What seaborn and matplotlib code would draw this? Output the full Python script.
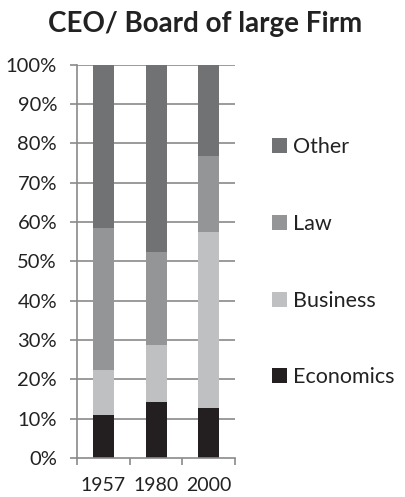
import matplotlib
matplotlib.use("Agg")
import matplotlib.pyplot as plt
from matplotlib.patches import Patch
from matplotlib.ticker import PercentFormatter, FixedLocator
import seaborn as sns
import pandas as pd
import numpy as np

# Share of each field of study (percent), per year
years = ["1957", "1980", "2000"]
economics = [11.0, 14.2, 12.7]
business = [11.4, 14.4, 44.8]
law = [36.1, 23.8, 19.2]
other = [41.5, 47.6, 23.3]

series_names = ["Economics", "Business", "Law", "Other"]
series_colors = ["#231f20", "#bfc0c2", "#949597", "#717274"]

sns.set_theme(style="white")
plt.rcParams["font.family"] = ["Lato", "DejaVu Sans"]

df = pd.DataFrame({"year": years, "Economics": economics, "Business": business,
                   "Law": law, "Other": other})
cum = df[series_names].cumsum(axis=1) / 100.0

fig = plt.figure(figsize=(4.06, 4.97), dpi=100)
ax = fig.add_axes([0.190, 0.0785, 0.389, 0.7915])

grid_col = "#8a8a8a"
for v in np.arange(0.1, 1.01, 0.1):
    ax.axhline(v, color=grid_col, lw=1.2, zorder=0)

# draw cumulative totals from the top segment down so each layer shows its share
for name, col in zip(series_names[::-1], series_colors[::-1]):
    sns.barplot(x=df["year"], y=cum[name], color=col, width=0.4, saturation=1,
                ax=ax, zorder=2, linewidth=0)

ax.set_ylim(0, 1)
ax.set_xlim(-0.5, 2.5)
ax.yaxis.set_major_locator(FixedLocator(np.arange(0, 1.01, 0.1)))
ax.yaxis.set_major_formatter(PercentFormatter(1.0, decimals=0))
ax.set_xlabel("")
ax.set_ylabel("")

ax.xaxis.set_minor_locator(FixedLocator([-0.5, 0.5, 1.5, 2.5]))
ax.tick_params(axis="x", which="major", length=0, pad=14, labelsize=14, labelcolor="#222222")
ax.tick_params(axis="x", which="minor", length=5, width=1.2, color=grid_col, bottom=True)
ax.tick_params(axis="y", which="major", length=5, width=1.2, color=grid_col, left=True,
               labelsize=14.5, labelcolor="#222222", pad=9.5)

for s in ["top", "right"]:
    ax.spines[s].set_visible(False)
for s in ["left", "bottom"]:
    ax.spines[s].set_color(grid_col)
    ax.spines[s].set_linewidth(1.2)

fig.suptitle("CEO/ Board of large Firm", x=0.505, y=0.978, fontsize=20,
             fontweight="bold", color="#222222")

handles = [Patch(facecolor=c, edgecolor="none") for c in series_colors[::-1]]
fig.legend(handles, series_names[::-1], loc="upper left",
           bbox_to_anchor=(0.643, 0.745), frameon=False, fontsize=15.5,
           labelspacing=2.63, handlelength=0.7, handleheight=0.7,
           handletextpad=0.3, borderpad=0, labelcolor="#222222")

fig.savefig("out.png", dpi=100)
